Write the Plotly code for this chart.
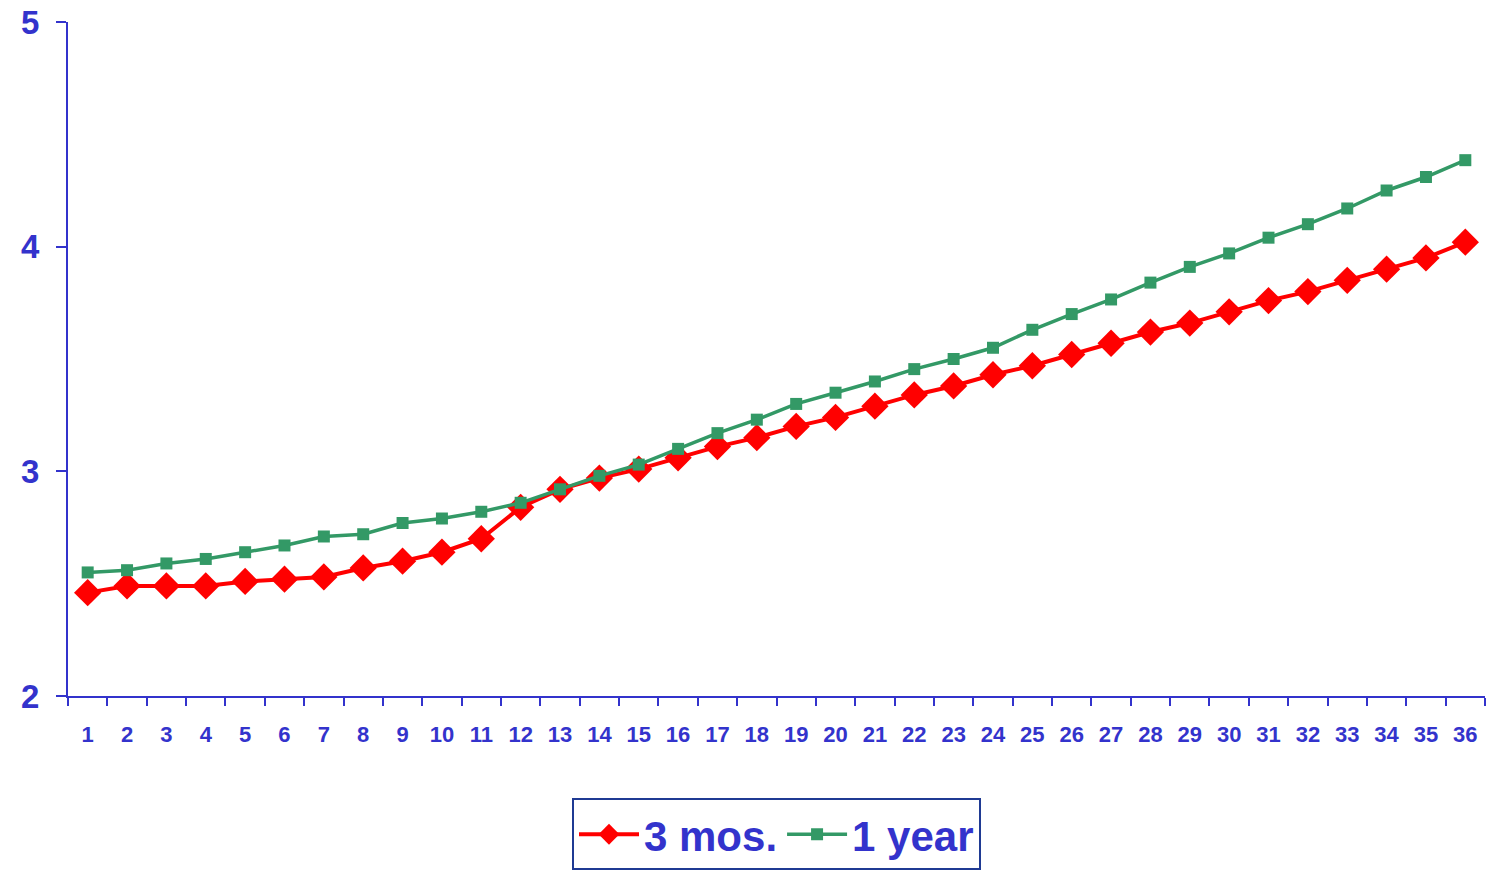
import plotly.graph_objects as go

months = [str(i) for i in range(1, 37)]
three_mos = [2.46, 2.49, 2.49, 2.49, 2.51, 2.52, 2.53, 2.57, 2.60, 2.64, 2.70, 2.84,
             2.92, 2.97, 3.01, 3.06, 3.11, 3.15, 3.20, 3.24, 3.29, 3.34, 3.38, 3.43,
             3.47, 3.52, 3.57, 3.62, 3.66, 3.71, 3.76, 3.80, 3.85, 3.90, 3.95, 4.02]
one_year = [2.55, 2.56, 2.59, 2.61, 2.64, 2.67, 2.71, 2.72, 2.77, 2.79, 2.82, 2.86,
            2.92, 2.98, 3.03, 3.10, 3.17, 3.23, 3.30, 3.35, 3.40, 3.455, 3.50, 3.55,
            3.63, 3.70, 3.765, 3.84, 3.91, 3.97, 4.04, 4.10, 4.17, 4.25, 4.31, 4.385]
y_ticks = [2, 3, 4, 5]

AXIS = "#3333CC"
FONT = "Liberation Sans, Arial, sans-serif"

fig = go.Figure()
fig.add_trace(go.Scatter(
    x=months, y=three_mos, name="3 mos.", mode="lines+markers",
    line=dict(color="#FF0000", width=4),
    marker=dict(symbol="diamond", size=21, color="#FF0000"),
))
fig.add_trace(go.Scatter(
    x=months, y=one_year, name="1 year", mode="lines+markers",
    line=dict(color="#339966", width=3.5),
    marker=dict(symbol="square", size=12, color="#339966"),
))

fig.update_layout(
    width=1498, height=874,
    margin=dict(l=60, r=21, t=14, b=176),
    plot_bgcolor="white", paper_bgcolor="white",
    font=dict(family=FONT, color=AXIS),
    showlegend=True,
    legend=dict(
        orientation="h", x=0.5, xanchor="center", y=-0.152, yanchor="top",
        font=dict(size=42, family=FONT, color=AXIS, weight="bold"),
        bordercolor="#1F3A93", borderwidth=2, bgcolor="white",
        itemwidth=60,
    ),
    xaxis=dict(
        type="category", showline=True, linecolor=AXIS, linewidth=2,
        ticks="outside", tickson="boundaries", ticklen=8, tickcolor=AXIS, tickwidth=2,
        showgrid=False, zeroline=False, automargin=False,
        tickfont=dict(size=22, family=FONT, color=AXIS, weight="bold"),
        ticklabelstandoff=18,
        range=[-0.5, 35.5],
    ),
    yaxis=dict(
        range=[2, 5], tickvals=y_ticks, showline=True, linecolor=AXIS, linewidth=2,
        ticks="outside", ticklen=10, tickcolor=AXIS, tickwidth=2,
        showgrid=False, zeroline=False, automargin=False,
        tickfont=dict(size=33, family=FONT, color=AXIS, weight="bold"),
        ticklabelstandoff=10, ticklabeloverflow="allow",
    ),
)

fig.write_html("out.html")
